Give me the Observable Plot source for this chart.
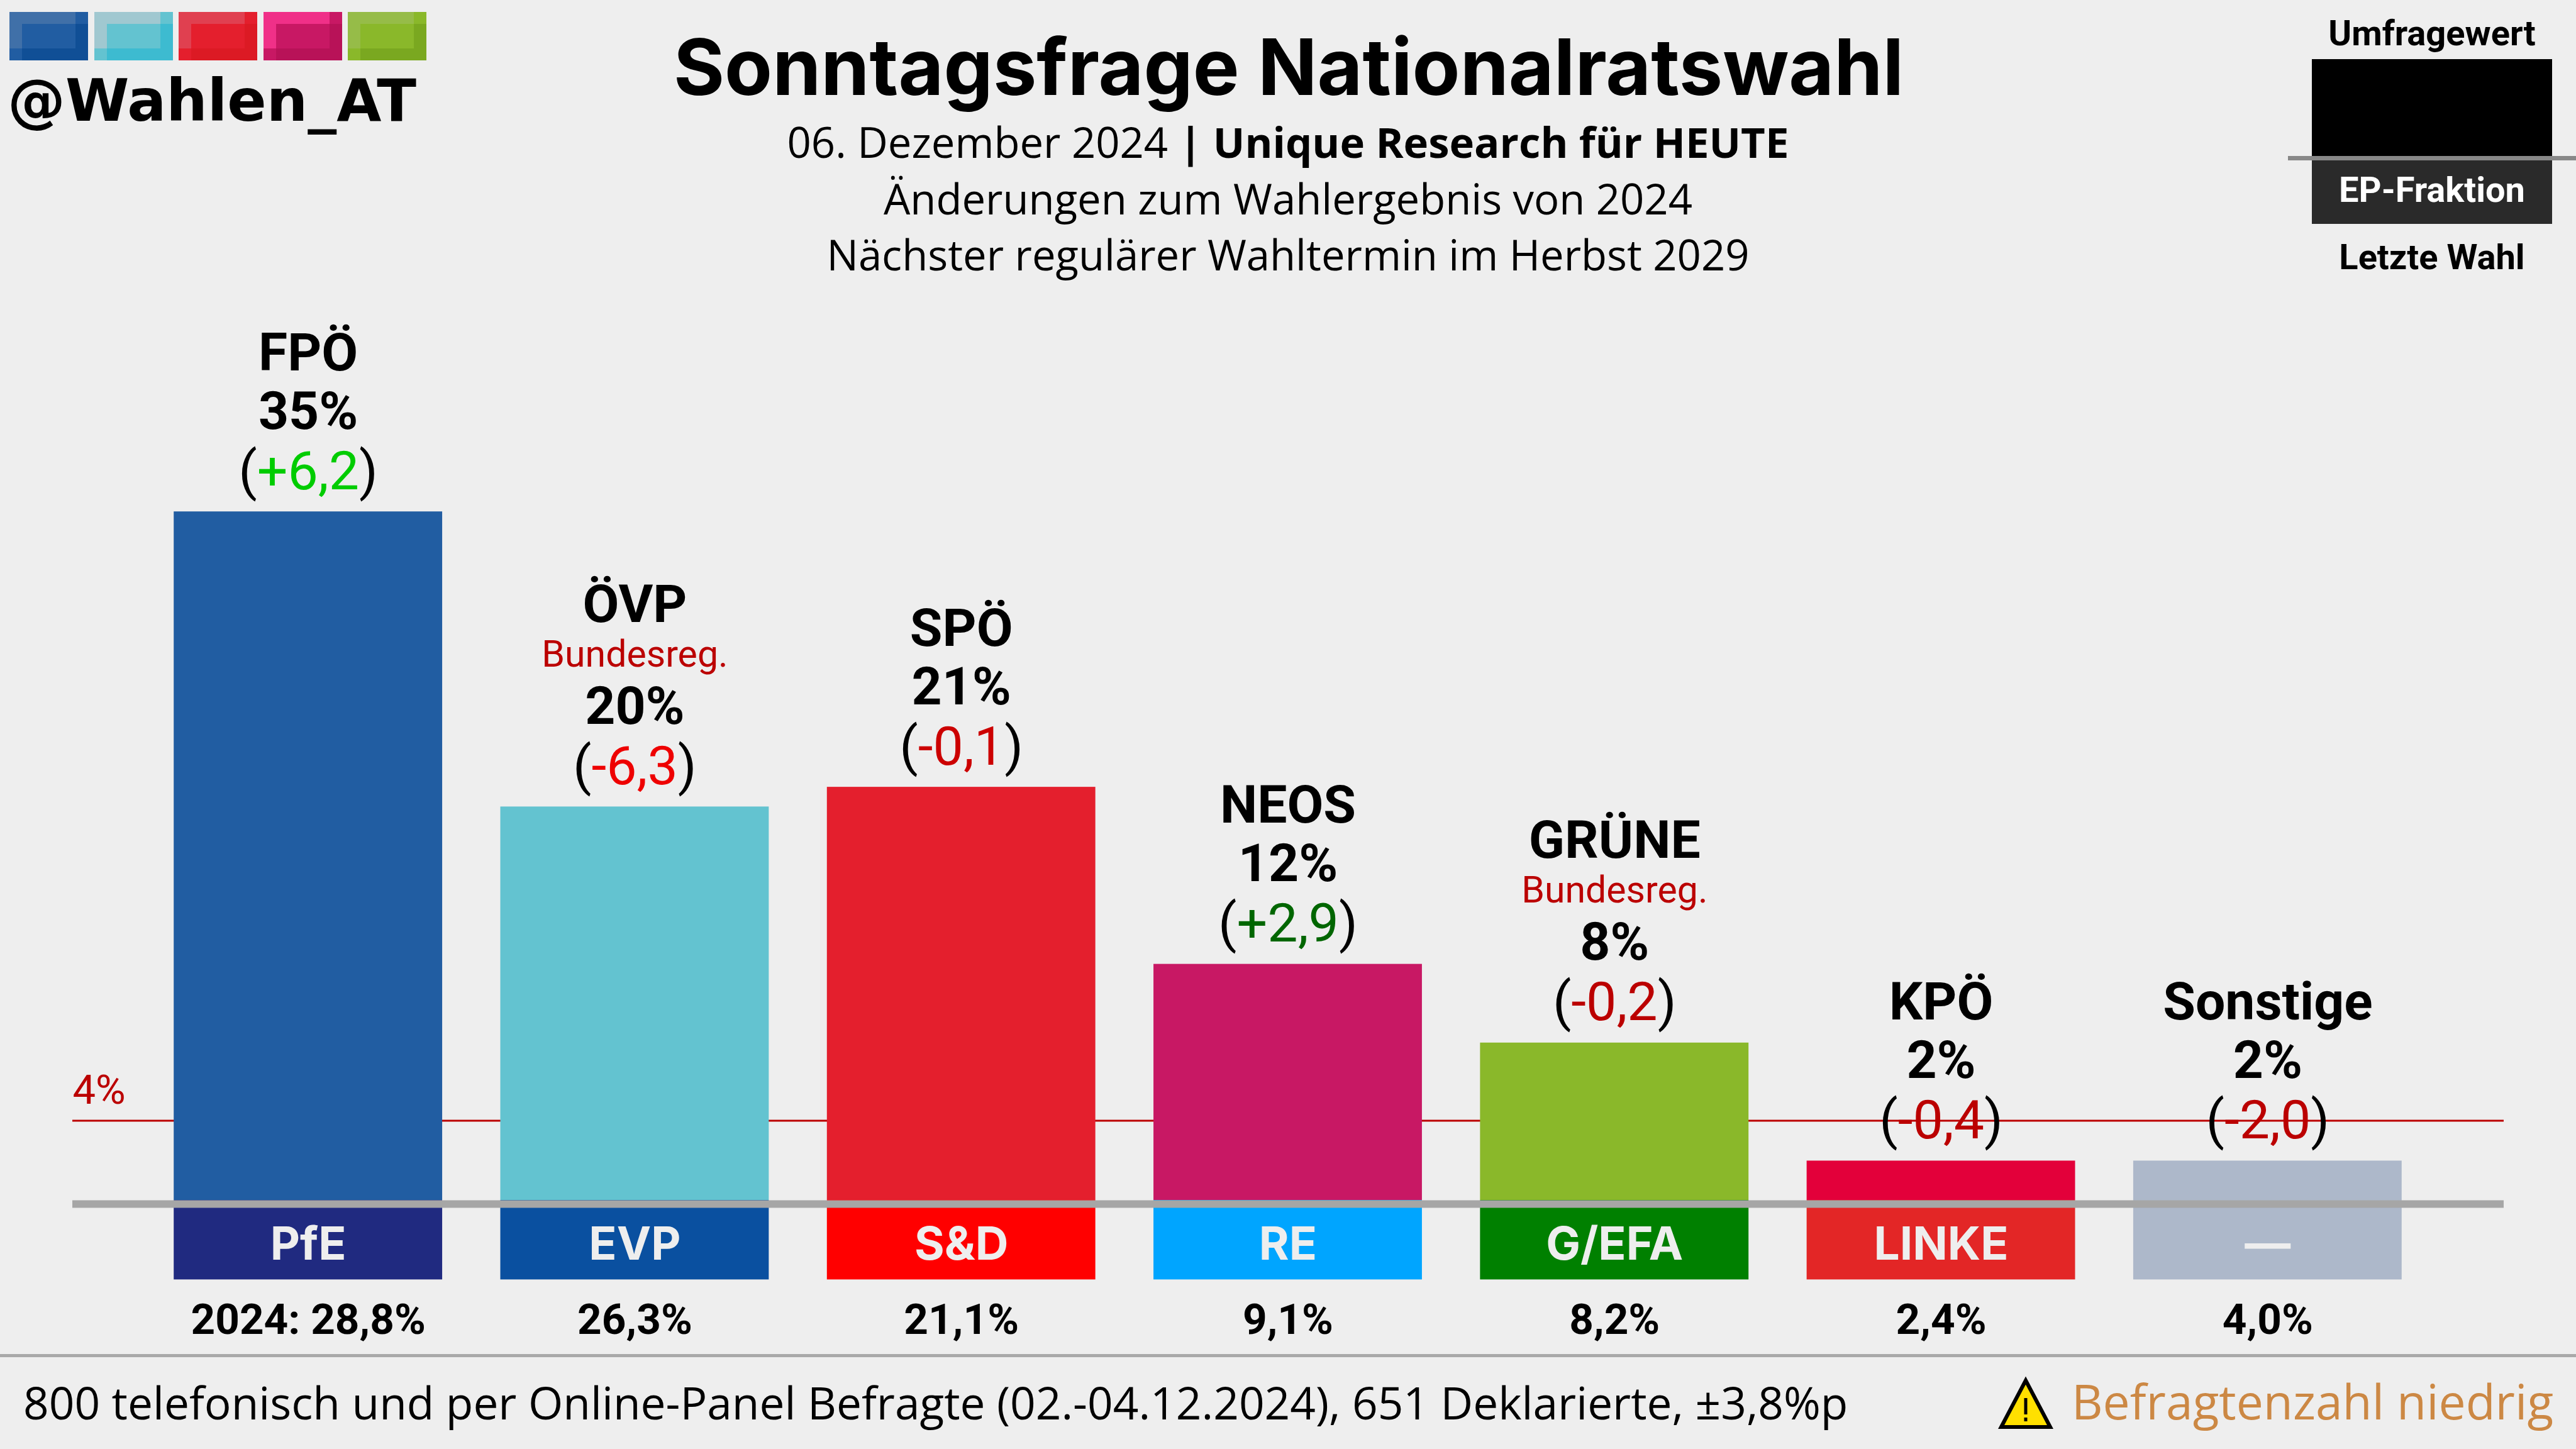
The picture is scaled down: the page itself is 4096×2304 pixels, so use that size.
<!DOCTYPE html>
<html lang="de">
<head>
<meta charset="utf-8">
<title>Sonntagsfrage Nationalratswahl</title>
<script src="https://cdn.jsdelivr.net/npm/d3@7"></script>
<script src="https://cdn.jsdelivr.net/npm/@observablehq/plot@0.6"></script>
<style>
  html, body { margin: 0; padding: 0; background: #eeeeee; }
  #page { position: relative; width: 4096px; height: 2304px; overflow: hidden; background: #eeeeee; }
  #header { position: relative; height: 500px; }
  #chart { position: relative; height: 1656px; }
  #footer { position: relative; height: 148px; }
  .t { position: absolute; line-height: 0; white-space: nowrap; }
</style>
</head>
<body>
<div id="page">
  <div id="header"></div>
  <div id="chart"></div>
  <div id="footer"></div>
</div>
<script>
// ---- data ----
const parties    = ["FPÖ", "ÖVP", "SPÖ", "NEOS", "GRÜNE", "KPÖ", "Sonstige"];
const polled     = [35, 20, 21, 12, 8, 2, 2];
const deltas     = ["+6,2", "-6,3", "-0,1", "+2,9", "-0,2", "-0,4", "-2,0"];
const lastVote   = ["2024: 28,8%", "26,3%", "21,1%", "9,1%", "8,2%", "2,4%", "4,0%"];
const groups     = ["PfE", "EVP", "S&D", "RE", "G/EFA", "LINKE", "—"];
const government = [false, true, false, false, true, false, false];
const barColors   = ["#215da2", "#63c3d0", "#e41f2d", "#c81864", "#8ab82a", "#e3003a", "#adb8ca"];
const groupColors = ["#202a80", "#0a50a0", "#ff0000", "#00a5ff", "#008000", "#e32626", "#adb8ca"];
const deltaColors = ["#00cc00", "#ee0000", "#cc0000", "#006600", "#bb0000", "#bb0000", "#bb0000"];
const threshold = 4;
const groupBandDepth = -4.04;   // the EP-group band hangs below the zero line
const logoBase  = ["#215da2", "#63c3d0", "#e41f2d", "#c81864", "#8ab82a"];
const logoLight = ["#4070a8", "#a0c8d0", "#e04050", "#f03088", "#96bc48"];
const logoDark  = ["#104f96", "#3dbbd0", "#dc1a24", "#b81258", "#7aa820"];

const rows = parties.map((party, i) => ({
  party, value: polled[i], delta: `(${deltas[i]})`, last: lastVote[i], group: groups[i],
  gov: government[i], barColor: barColors[i], groupColor: groupColors[i], deltaColor: deltaColors[i]
}));
const govRows = rows.filter(d => d.gov);
const otherRows = rows.filter(d => !d.gov);

// ---- text helper: places a text on an exact baseline ----
const measure = document.createElement("canvas").getContext("2d");
function put(parent, html, {x, base, size, family = "Roboto", weight = 400, color = "#000", align = "center", spacing = 0}) {
  measure.font = `${weight} ${size}px "${family}"`;
  const m = measure.measureText("x");
  const el = document.createElement("div");
  el.className = "t";
  el.innerHTML = html;
  const shift = align === "center" ? "translateX(-50%)" : align === "right" ? "translateX(-100%)" : "none";
  el.style.cssText = `left:${x}px;top:${base - (m.fontBoundingBoxAscent - m.fontBoundingBoxDescent) / 2}px;` +
    `font:${weight} ${size}px "${family}";line-height:0;color:${color};transform:${shift};letter-spacing:${spacing}px`;
  parent.appendChild(el);
  return el;
}
function box(parent, x, y, w, h, bg) {
  const el = document.createElement("div");
  el.style.cssText = `position:absolute;left:${x}px;top:${y}px;width:${w}px;height:${h}px;background:${bg}`;
  parent.appendChild(el);
}
const band = (c, pos) => `linear-gradient(${c},${c}) ${pos} no-repeat`;

// ---- header ----
const header = document.getElementById("header");
logoBase.forEach((c, i) => {
  box(header, 15 + i * 134.5, 19, 125, 77, [
    band(logoLight[i], "0 0 / 105px 19px"),
    band(logoLight[i], "0 0 / 20px 58px"),
    band(logoDark[i], "20px 58px / 105px 19px"),
    band(logoDark[i], "105px 19px / 20px 58px"),
    c
  ].join(","));
});
put(header, "@Wahlen_AT", {x: 12, base: 192, size: 92, family: "DejaVu Sans", weight: 700, align: "left"});
put(header, "Sonntagsfrage Nationalratswahl", {x: 2049, base: 151, size: 124, family: "Inter", weight: 700});
put(header, '06. Dezember 2024 <b style="font-weight:700">| Unique Research für HEUTE</b>', {x: 2048, base: 251, size: 67, family: "Open Sans"});
put(header, "Änderungen zum Wahlergebnis von 2024", {x: 2048, base: 341, size: 67, family: "Open Sans"});
put(header, "Nächster regulärer Wahltermin im Herbst 2029", {x: 2048, base: 430, size: 67, family: "Open Sans"});
// key
box(header, 3676, 94, 382, 154, "#000");
box(header, 3676, 255, 382, 101, "#2a2a2a");
box(header, 3638, 248, 458, 7, "#888888");
put(header, "Umfragewert", {x: 3867, base: 72, size: 56, weight: 700});
put(header, "EP-Fraktion", {x: 3867, base: 321, size: 56, weight: 700, color: "#ffffff"});
put(header, "Letzte Wahl", {x: 3867, base: 428, size: 56, weight: 700});

// ---- chart ----
const label = {x: "party", fontFamily: "Roboto", lineAnchor: "bottom", fontWeight: 700, fill: "#000"};
const chart = Plot.plot({
  width: 4096,
  height: 1656,
  marginTop: 0, marginBottom: 0, marginLeft: 115, marginRight: 115,
  style: {background: "transparent", maxWidth: "none", overflow: "visible"},
  x: {type: "band", domain: parties, range: [230, 3865], paddingInner: 0.178, paddingOuter: 0.089, round: false, axis: null},
  y: {type: "linear", domain: [-7.928, 45.013], range: [1656, 0], axis: null},
  marks: [
    Plot.ruleY([threshold], {stroke: "#bb0000", strokeWidth: 3, dy: -1.5}),
    Plot.barY(rows, {x: "party", y1: 0, y2: "value", fill: "barColor"}),
    Plot.barY(rows, {x: "party", y1: 0, y2: groupBandDepth, fill: "groupColor"}),
    Plot.ruleY([0], {stroke: "#a6a6a6", strokeWidth: 12, dy: 6}),
    // names, values, changes above the bars
    Plot.text(otherRows, {...label, y: "value", text: "party", dy: -225, fontSize: 84}),
    Plot.text(govRows, {...label, y: "value", text: "party", dy: -294, fontSize: 84}),
    Plot.text(govRows, {...label, y: "value", text: () => "Bundesreg.", dy: -223, fontSize: 59, fontWeight: 400, fill: "#bb0000"}),
    Plot.text(rows, {...label, y: "value", text: d => `${d.value}%`, dy: -132, fontSize: 84}),
    Plot.text(rows, {...label, y: "value", text: "delta", dy: -36, fontSize: 86, fontWeight: 400,
      render(index, scales, values, dimensions, context, next) {
        const g = next(index, scales, values, dimensions, context);
        d3.select(g).selectAll("text").each(function (_, k) {
          const row = rows[index[k]];
          const t = d3.select(this).text(null);
          t.append("tspan").text("(");
          t.append("tspan").attr("fill", row.deltaColor).text(row.delta.slice(1, -1));
          t.append("tspan").text(")");
        });
        return g;
      }
    }),
    // threshold label, EP-group band, last result
    Plot.text([`${threshold}%`], {frameAnchor: "left", y: () => threshold, text: d => d, textAnchor: "start", lineAnchor: "bottom", dy: -28, fontFamily: "Roboto", fontSize: 65, fill: "#bb0000"}),
    Plot.text(rows, {...label, y: () => 0, text: "group", dy: 94, fontFamily: "Inter", fontSize: 73, fill: "#eeeeee"}),
    Plot.text(rows, {...label, y: () => 0, text: "last", dy: 212, fontSize: 67.5})
  ]
});
document.getElementById("chart").appendChild(chart);

// ---- footer ----
const footer = document.getElementById("footer");
box(footer, 0, -3, 4096, 5, "#a9a9a9");
put(footer, "800 telefonisch und per Online-Panel Befragte (02.-04.12.2024), 651 Deklarierte, ±3,8%p", {x: 37, base: 101, size: 71.2, family: "Open Sans", align: "left"});
put(footer, "Befragtenzahl niedrig", {x: 3294, base: 101, size: 76.8, family: "Open Sans", align: "left", color: "#cc8844"});
const warn = document.createElementNS("http://www.w3.org/2000/svg", "svg");
warn.setAttribute("width", 90); warn.setAttribute("height", 90);
warn.setAttribute("viewBox", "0 0 90 90");
warn.style.cssText = "position:absolute;left:3176px;top:31px";
warn.innerHTML = `<polygon points="45,8 84,82 6,82" fill="#ffe000" stroke="#000" stroke-width="6" stroke-linejoin="miter"/>
  <line x1="45" y1="36" x2="45" y2="62" stroke="#000" stroke-width="5"/><rect x="42.5" y="67" width="5" height="6" fill="#000"/>`;
footer.appendChild(warn);
</script>
</body>
</html>
